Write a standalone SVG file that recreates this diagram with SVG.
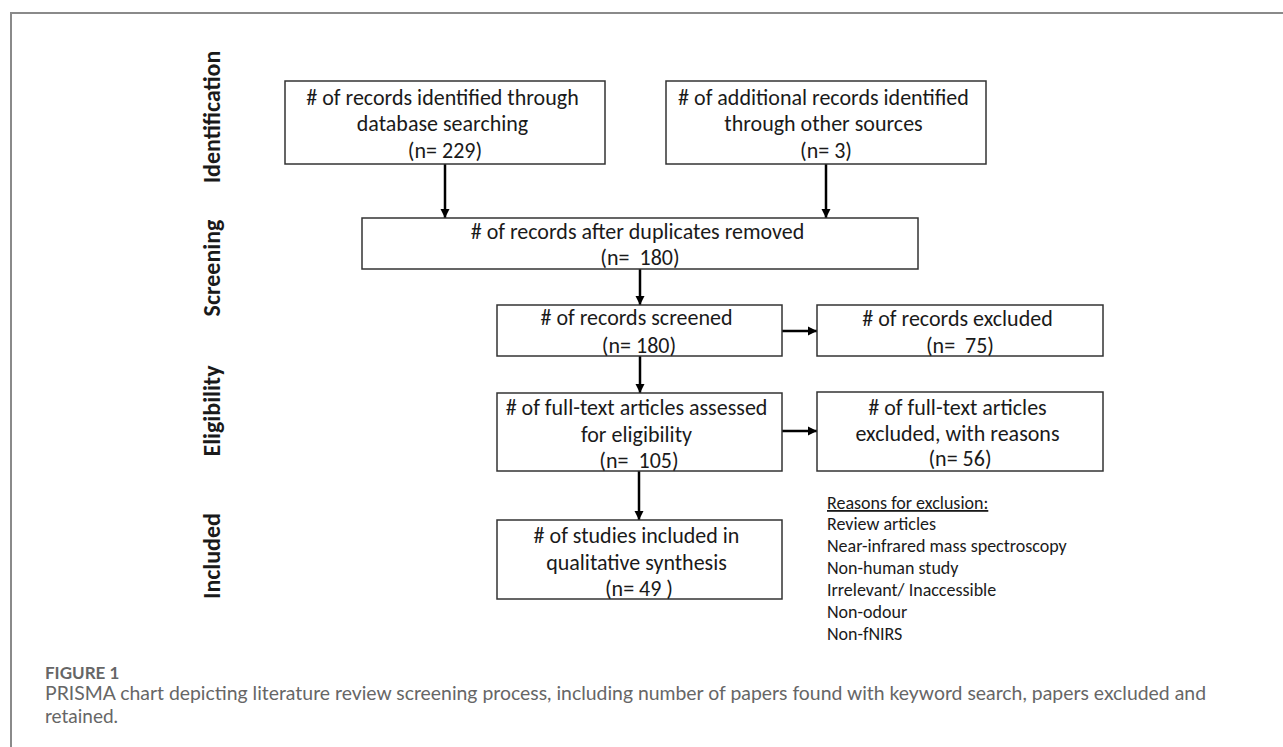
<svg xmlns="http://www.w3.org/2000/svg" width="1283" height="747" viewBox="0 0 1283 747">
<defs>
<style>
.box{fill:#fff;stroke:#333;stroke-width:1.5}
.t{font-family:Carlito,Calibri,Lato,"Noto Sans",sans-serif;font-size:22px;fill:#1a1a1a;text-anchor:middle}
.r{font-family:Carlito,Calibri,Lato,"Noto Sans",sans-serif;font-size:18px;fill:#1a1a1a}
.lab{font-family:Carlito,Calibri,Lato,"Noto Sans",sans-serif;font-size:24px;font-weight:bold;fill:#1a1a1a;text-anchor:middle}
.cap{font-family:Lato,"Open Sans","Noto Sans",sans-serif;fill:#666}
.arr{stroke:#000;stroke-width:2.5;fill:none;marker-end:url(#ah)}
</style>
<marker id="ah" markerUnits="userSpaceOnUse" markerWidth="10" markerHeight="10" refX="9" refY="5" orient="auto">
<path d="M0,0.5 L9,5 L0,9.5 Z" fill="#000"/>
</marker>
</defs>
<rect width="1283" height="747" fill="#fff"/>
<path d="M11,747 V13 H1283" fill="none" stroke="#8a8a8a" stroke-width="2"/>

<g id="phase-labels">
<text class="lab" transform="translate(220,117) rotate(-90)">Identification</text>
<text class="lab" transform="translate(220,268) rotate(-90)">Screening</text>
<text class="lab" transform="translate(220,411) rotate(-90)">Eligibility</text>
<text class="lab" transform="translate(220,556) rotate(-90)">Included</text>
</g>

<g id="connectors">
<line class="arr" x1="445" y1="164" x2="445" y2="218"/>
<line class="arr" x1="826" y1="164" x2="826" y2="218"/>
<line class="arr" x1="640" y1="269" x2="640" y2="305"/>
<line class="arr" x1="640" y1="356" x2="640" y2="393"/>
<line class="arr" x1="639" y1="471" x2="639" y2="520"/>
<line class="arr" x1="782" y1="331" x2="817" y2="331"/>
<line class="arr" x1="782" y1="431" x2="817" y2="431"/>
</g>

<g id="n-database">
<rect class="box" x="285" y="81" width="320" height="83"/>
<text class="t">
<tspan x="445" y="105"># of records identified through</tspan>
<tspan x="445" y="131">database searching</tspan>
<tspan x="445" y="158">(n= 229)</tspan>
</text>
</g>

<g id="n-other">
<rect class="box" x="666" y="81" width="320" height="83"/>
<text class="t">
<tspan x="826" y="105"># of additional records identified</tspan>
<tspan x="826" y="131">through other sources</tspan>
<tspan x="826" y="158">(n= 3)</tspan>
</text>
</g>

<g id="n-duplicates">
<rect class="box" x="362" y="218" width="556" height="51"/>
<text class="t">
<tspan x="640" y="239"># of records after duplicates removed</tspan>
<tspan x="640" y="265">(n=&#160; 180)</tspan>
</text>
</g>

<g id="n-screened">
<rect class="box" x="497" y="305" width="285" height="51"/>
<text class="t">
<tspan x="639" y="325"># of records screened</tspan>
<tspan x="639" y="353">(n= 180)</tspan>
</text>
</g>

<g id="n-excluded">
<rect class="box" x="817" y="305" width="286" height="51"/>
<text class="t">
<tspan x="960" y="326"># of records excluded</tspan>
<tspan x="960" y="353">(n=&#160; 75)</tspan>
</text>
</g>

<g id="n-fulltext">
<rect class="box" x="497" y="393" width="285" height="78"/>
<text class="t">
<tspan x="639" y="415"># of full-text articles assessed</tspan>
<tspan x="639" y="442">for eligibility</tspan>
<tspan x="639" y="468">(n=&#160; 105)</tspan>
</text>
</g>

<g id="n-fulltext-excluded">
<rect class="box" x="817" y="392" width="286" height="79"/>
<text class="t">
<tspan x="960" y="415"># of full-text articles</tspan>
<tspan x="960" y="441">excluded, with reasons</tspan>
<tspan x="960" y="466">(n= 56)</tspan>
</text>
</g>

<g id="n-included">
<rect class="box" x="497" y="520" width="285" height="79"/>
<text class="t">
<tspan x="639" y="543"># of studies included in</tspan>
<tspan x="639" y="570">qualitative synthesis</tspan>
<tspan x="639" y="596">(n= 49 )</tspan>
</text>
</g>

<g id="n-reasons">
<text class="r" x="827" y="509" text-decoration="underline">Reasons for exclusion:</text>
<text class="r" x="827" y="530">Review articles</text>
<text class="r" x="827" y="552">Near-infrared mass spectroscopy</text>
<text class="r" x="827" y="574">Non-human study</text>
<text class="r" x="827" y="596">Irrelevant/ Inaccessible</text>
<text class="r" x="827" y="618">Non-odour</text>
<text class="r" x="827" y="640">Non-fNIRS</text>
</g>

<g id="caption">
<text class="cap" x="45" y="679" font-size="17" font-weight="bold" fill="#777">FIGURE 1</text>
<text class="cap" x="45" y="700" font-size="19" textLength="1161" lengthAdjust="spacingAndGlyphs">PRISMA chart depicting literature review screening process, including number of papers found with keyword search, papers excluded and</text>
<text class="cap" x="45" y="723" font-size="19">retained.</text>
</g>
</svg>
